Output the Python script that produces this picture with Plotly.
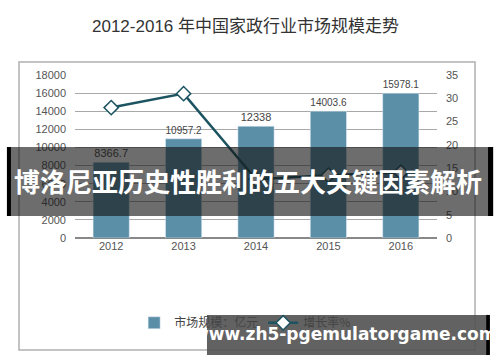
import plotly.graph_objects as go

years = ["2012", "2013", "2014", "2015", "2016"]
market_size = [8366.7, 10957.2, 12338, 14003.6, 15978.1]
growth_rate = [28.0, 31.0, 12.6, 13.5, 14.1]

title_text = "2012-2016 年中国家政行业市场规模走势"
banner_text = "博洛尼亚历史性胜利的五大关键因素解析"
watermark_text = "www.zh5-pgemulatorgame.com"

FONT = "Liberation Sans, Noto Sans CJK SC, sans-serif"
CJK = "Noto Sans CJK SC, sans-serif"

fig = go.Figure()
fig.add_trace(go.Bar(
    x=years, y=market_size, name="市场规模：亿元",
    marker=dict(color="#5b8fa8"), width=0.5,
    text=[f"{v:g}" for v in market_size], textposition="outside",
    textfont=dict(size=11, color="#444", family=FONT), cliponaxis=False,
))
fig.add_trace(go.Scatter(
    x=years, y=growth_rate, name="增长率%", yaxis="y2", mode="lines+markers",
    line=dict(color="#1d5461", width=2.5),
    marker=dict(symbol="diamond", size=11, color="white", line=dict(color="#1d5461", width=1.5)),
))

shapes = [
    dict(type="rect", xref="paper", yref="paper", x0=-0.1547, x1=1.105, y0=-0.687, y1=1.0798,
         line=dict(color="#b0b0b0", width=1.5), fillcolor="rgba(0,0,0,0)", layer="below"),
    # banner
    dict(type="rect", xref="paper", yref="paper", x0=-0.188, x1=1.155, y0=0.135, y1=0.558,
         line=dict(width=0), fillcolor="rgba(20,20,20,0.62)", layer="above"),
    dict(type="rect", xref="paper", yref="paper", x0=-0.188, x1=-0.177, y0=0.135, y1=0.558,
         line=dict(width=0), fillcolor="black", layer="above"),
    dict(type="rect", xref="paper", yref="paper", x0=1.141, x1=1.155, y0=0.135, y1=0.558,
         line=dict(width=0), fillcolor="black", layer="above"),
    # watermark
    dict(type="rect", xref="paper", yref="paper", x0=0.3646, x1=1.146, y0=-0.718, y1=-0.472,
         line=dict(width=0), fillcolor="rgba(85,85,85,0.92)", layer="above"),
    dict(type="rect", xref="paper", yref="paper", x0=1.136, x1=1.146, y0=-0.718, y1=-0.472,
         line=dict(width=0), fillcolor="black", layer="above"),
]

annotations = [
    dict(text=title_text, xref="paper", yref="paper", x=0.47, y=1.3, showarrow=False,
         font=dict(size=17, color="#333", family=FONT), xanchor="center", yanchor="middle"),
    dict(text=f"<b>{banner_text}</b>", xref="paper", yref="paper", x=0.478, y=0.35, showarrow=False,
         font=dict(size=26, color="white", family=CJK), xanchor="center", yanchor="middle"),
    dict(text=f"<b>{watermark_text}</b>", xref="paper", yref="paper", x=0.745, y=-0.59, showarrow=False,
         font=dict(size=17, color="white", family="DejaVu Sans, sans-serif"), xanchor="center", yanchor="middle"),
]

fig.update_layout(
    width=500, height=362,
    margin=dict(l=75, r=63, t=75, b=124),
    paper_bgcolor="white", plot_bgcolor="white",
    font=dict(family=FONT, color="#555", size=11),
    showlegend=True,
    legend=dict(orientation="h", x=0.47, xanchor="center", y=-0.52, yanchor="middle",
                font=dict(size=12, color="#444", family=CJK), bgcolor="rgba(0,0,0,0)"),
    xaxis=dict(showgrid=False, showline=False, ticks="", tickfont=dict(size=11, color="#555")),
    yaxis=dict(range=[0, 18000], dtick=2000, tickformat="d", showgrid=True, gridcolor="#a8a8a8", gridwidth=1,
               zeroline=True, zerolinecolor="#888", zerolinewidth=1.5, ticks="",
               tickfont=dict(size=11, color="#555"), ticklabelstandoff=8),
    yaxis2=dict(range=[0, 35], dtick=5, overlaying="y", side="right", showgrid=False,
                zeroline=False, ticks="", tickfont=dict(size=11, color="#555"), ticklabelstandoff=8),
    bargap=0.5,
    shapes=shapes, annotations=annotations,
)

fig.write_html("out.html")
